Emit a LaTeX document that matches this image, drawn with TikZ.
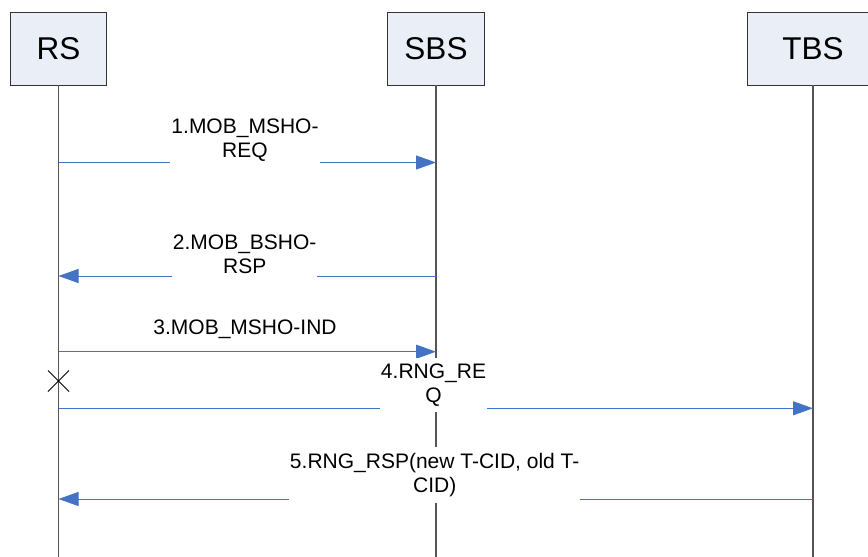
\documentclass[tikz,border=0pt]{standalone}
\usepackage{fontspec}
\setmainfont{Liberation Sans}
\usetikzlibrary{arrows.meta,shapes.misc}
\definecolor{boxfill}{RGB}{233,238,247}
\definecolor{msgblue}{RGB}{68,114,196}
\definecolor{lifegray}{RGB}{85,85,85}

\begin{document}
\begin{tikzpicture}[x=1pt,y=1pt,yscale=-1,xscale=1,
	entity/.style={draw=black!80, fill=boxfill, line width=0.8pt, minimum width=96pt, minimum height=72.5pt, inner sep=0pt, font={\fontsize{31.5}{36}\selectfont}},
	lifeline/.style={draw=lifegray, line width=1.1pt},
	msg/.style={draw=msgblue, line width=1pt, -{Triangle[length=20pt,width=14pt]}},
	msglabel/.style={fill=white, align=center, inner xsep=1pt, inner ysep=6pt, font={\fontsize{21}{24}\selectfont}}]
	\useasboundingbox (0,0) rectangle (868,557);
	\clip (0,0) rectangle (868,557);

	%entities
	\node [entity] (RS) at (58.5,48.75) {RS};
	\node [entity, minimum width=97pt] (SBS) at (436,48.75) {SBS};
	\node [entity, minimum width=132pt] (TBS) at (813,48.75) {TBS};

	\draw [lifeline] (RS.south) -- (RS.south |- 0,557);
	\draw [lifeline] (SBS.south) -- (SBS.south |- 0,557);
	\draw [lifeline] (TBS.south) -- (TBS.south |- 0,557);

	%message rows
	\coordinate (r1) at (0,162.5);
	\coordinate (r2) at (0,276);
	\coordinate (r3) at (0,351.7);
	\coordinate (r4) at (0,408.3);
	\coordinate (r5) at (0,499);

	\draw [msg] (RS.south |- r1) -- (SBS.south |- r1);
	\draw [msg] (SBS.south |- r2) -- (RS.south |- r2);
	\draw [msg] (RS.south |- r3) -- (SBS.south |- r3);
	\draw [msg] (RS.south |- r4) -- (TBS.south |- r4);
	\draw [msg] (TBS.south |- r5) -- (RS.south |- r5);

	\node [cross out, draw=black, line width=1pt, minimum size=20pt, inner sep=0pt] (lost) at (RS.south |- 0,381) {};

	\node [msglabel] (l1) at (245,140.5) {1.MOB\_MSHO-\\REQ};
	\node [msglabel] (l2) at (244.7,254.5) {2.MOB\_BSHO-\\RSP};
	\node [msglabel] (l3) at (245,329) {3.MOB\_MSHO-IND};
	\node [msglabel] (l4) at (433.5,385) {4.RNG\_RE\\Q};
	\node [msglabel] (l5) at (434.7,475) {5.RNG\_RSP(new T-CID, old T-\\CID)};
\end{tikzpicture}
\end{document}
